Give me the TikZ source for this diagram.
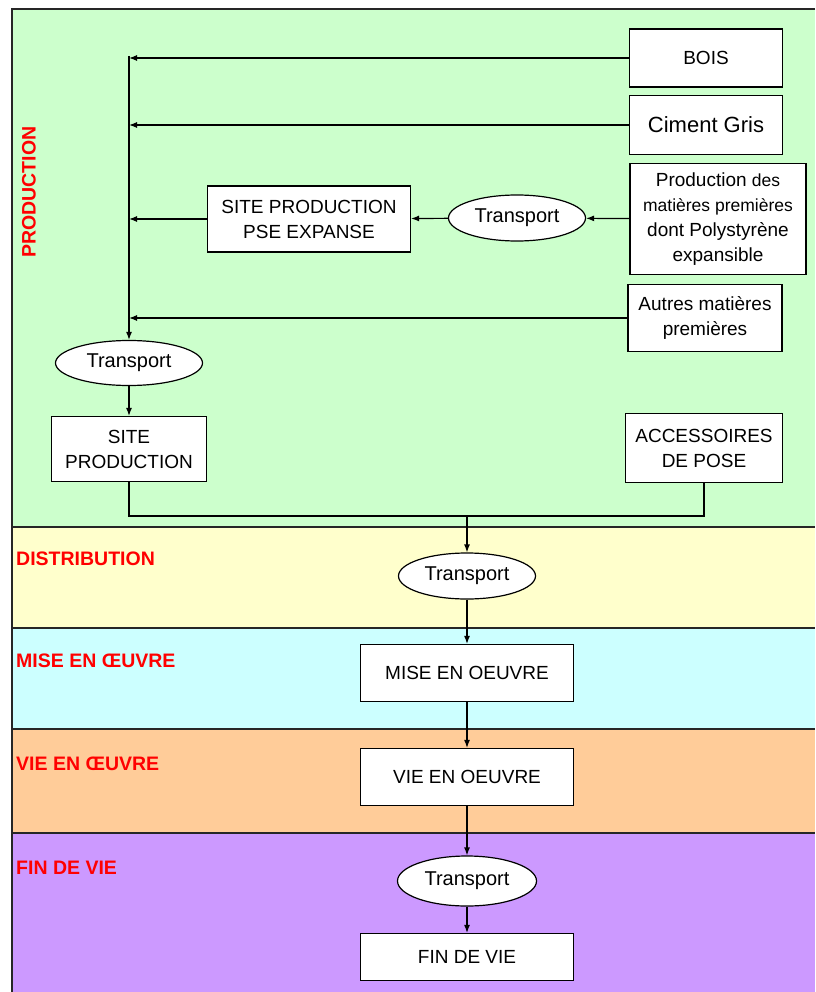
\documentclass[tikz,border=0pt]{standalone}
\usepackage{fontspec}
\setmainfont{Liberation Sans}
\usepackage{xcolor}
\usetikzlibrary{arrows.meta, shapes.geometric}
\definecolor{prodgreen}{HTML}{CCFFCC}
\definecolor{distyellow}{HTML}{FFFFCC}
\definecolor{misecyan}{HTML}{CCFFFF}
\definecolor{vieorange}{HTML}{FFCC99}
\definecolor{finpurple}{HTML}{CC99FF}

\begin{document}
\begin{tikzpicture}[x=1pt, y=-1pt,
        box/.style={rectangle, draw, fill=white, line width=1.2pt, inner sep=2pt, align=center, font=\fontsize{19}{25}\selectfont},
        oval/.style={ellipse, draw, fill=white, line width=1.2pt, inner sep=0pt, font=\fontsize{20}{24}\selectfont},
        phase/.style={text=red, inner sep=0pt, font=\fontsize{19.5}{24}\selectfont\bfseries},
        flow/.style={-{Latex[length=8pt, width=6pt]}, line width=1.2pt}]
            \useasboundingbox (0,0) rectangle (815,992);
            \clip (0,0) rectangle (815,992);

            % phases
            \fill[prodgreen]  (12,9)   rectangle (815,527);
            \fill[distyellow] (12,527) rectangle (815,628);
            \fill[misecyan]   (12,628) rectangle (815,729);
            \fill[vieorange]  (12,729) rectangle (815,833);
            \fill[finpurple]  (12,833) rectangle (815,992);
            \draw[line width=1.5pt, black!85] (815,9) -- (12,9) -- (12,992);
            \draw[line width=1.5pt, black!85] (12,527) -- (815,527);
            \draw[line width=1.5pt, black!85] (12,628) -- (815,628);
            \draw[line width=1.5pt, black!85] (12,729) -- (815,729);
            \draw[line width=1.5pt, black!85] (12,833) -- (815,833);

            \node[phase, rotate=90]     at (29,192) (lblprod) {PRODUCTION};
            \node[phase, anchor=west]   at (16,559) (lbldist) {DISTRIBUTION};
            \node[phase, anchor=west]   at (16,661) (lblmise) {MISE EN ŒUVRE};
            \node[phase, anchor=west]   at (16,764) (lblvie)  {VIE EN ŒUVRE};
            \node[phase, anchor=west]   at (16,868) (lblfin)  {FIN DE VIE};

            % production
            \node[box, minimum width=153pt, minimum height=58pt] at (706,58)  (bois) {BOIS};
            \node[box, minimum width=153pt, minimum height=59pt, font=\fontsize{22}{26}\selectfont] at (706,125) (ciment) {Ciment Gris};
            \node[box, minimum width=176pt, minimum height=111pt] at (718,219) (matieres)
                {Production {\fontsize{17.5}{25}\selectfont des}\\{\fontsize{17.5}{25}\selectfont matières premières}\\dont Polystyrène\\expansible};
            \node[oval, minimum width=137pt, minimum height=46pt] at (517,218) (transpmp) {Transport};
            \node[box, minimum width=203pt, minimum height=66pt] at (309,219) (sitepse) {SITE PRODUCTION\\PSE EXPANSE};
            \node[box, minimum width=154pt, minimum height=67pt] at (705,318) (autres) {Autres matières\\premières};
            \node[oval, minimum width=147pt, minimum height=45pt] at (129,363) (transpprod) {Transport};
            \node[box, minimum width=155pt, minimum height=65pt] at (129,449) (siteprod) {SITE\\PRODUCTION};
            \node[box, minimum width=157pt, minimum height=69pt] at (704,448) (accessoires) {ACCESSOIRES\\DE POSE};
            \coordinate (bustop) at (129,56);
            \coordinate (join) at (467,516);

            % chain
            \node[oval, minimum width=137pt, minimum height=46pt] at (467,576) (transpdist) {Transport};
            \node[box, minimum width=213pt, minimum height=57pt] at (467,673) (mise) {MISE EN OEUVRE};
            \node[box, minimum width=213pt, minimum height=57pt] at (467,777) (vie) {VIE EN OEUVRE};
            \node[oval, minimum width=139pt, minimum height=50pt] at (467,881) (transpfin) {Transport};
            \node[box, minimum width=213pt, minimum height=47pt] at (467,957) (fin) {FIN DE VIE};

            \draw [flow] (bois.west) -- (bois.west -| bustop);
            \draw [flow] (ciment.west) -- (ciment.west -| bustop);
            \draw [flow] (matieres) -- (transpmp);
            \draw [flow] (transpmp) -- (sitepse);
            \draw [flow] (sitepse.west) -- (sitepse.west -| bustop);
            \draw [flow] (autres.west) -- (autres.west -| bustop);
            \draw [flow] (bustop) -- (transpprod.north);
            \draw [flow] (transpprod) -- (siteprod);
            \draw [line width=1.2pt] (siteprod.south) |- (join) -| (accessoires.south);
            \draw [flow] (join) -- (transpdist.north);
            \draw [flow] (transpdist) -- (mise);
            \draw [flow] (mise) -- (vie);
            \draw [flow] (vie) -- (transpfin);
            \draw [flow] (transpfin) -- (fin);
        \end{tikzpicture}
\end{document}
